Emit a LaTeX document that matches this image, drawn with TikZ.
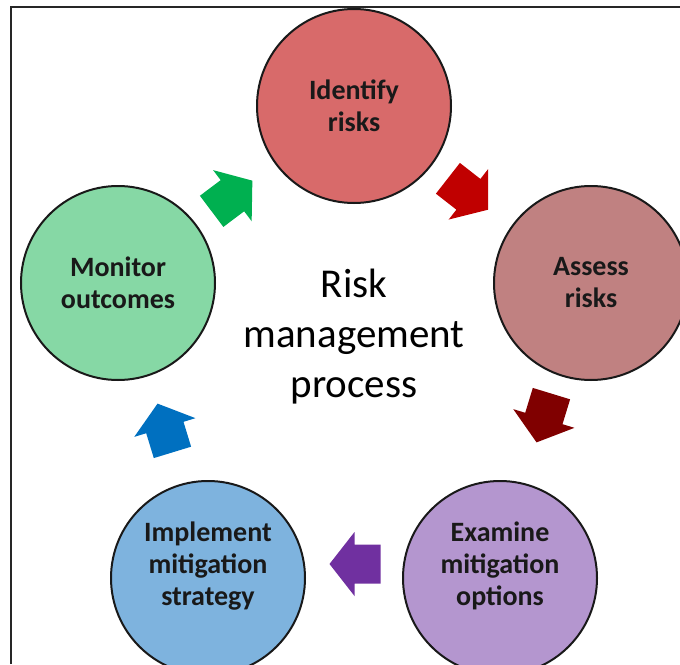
\documentclass[tikz,border=0pt]{standalone}
\usepackage{fontspec}
\setmainfont{Carlito}
\usetikzlibrary{positioning,calc}
\definecolor{identFill}{HTML}{D86A6A}
\definecolor{assessFill}{HTML}{C08181}
\definecolor{examineFill}{HTML}{B496CF}
\definecolor{implementFill}{HTML}{7EB3DE}
\definecolor{monitorFill}{HTML}{86D8A5}
\definecolor{arrowGreen}{HTML}{00B050}
\definecolor{arrowRed}{HTML}{C00000}
\definecolor{arrowMaroon}{HTML}{800000}
\definecolor{arrowPurple}{HTML}{7030A0}
\definecolor{arrowBlue}{HTML}{0070C0}

\begin{document}
\begin{tikzpicture}[
  x=0.5pt, y=-0.5pt,
  stage/.style={circle, draw=black!90, line width=1pt, minimum size=97pt, inner sep=0pt, align=center, font=\bfseries\fontsize{14}{16}\selectfont, text=black!90},
  stagetext/.style={align=center, font=\bfseries\fontsize{14}{16}\selectfont, text=black!90},
  blockarrow/.pic={\fill (-25.5,-19.5) -- (0.5,-19.5) -- (0.5,-32) -- (25.5,0) -- (0.5,32) -- (0.5,19.5) -- (-25.5,19.5) -- cycle;},
  frame/.style={line width=1.2pt, draw=black!85}
]
\useasboundingbox (0,0) rectangle (680,664);
\clip (0,0) rectangle (680,664);
\draw[frame] (11,664) |- (680,7);
% the five steps of the cycle
\node[stage, fill=identFill] (ident) at (354,106) {Identify\\risks};
\node[stage, fill=assessFill] (assess) at (591,283) {Assess\\risks};
\node[stage, fill=examineFill, label={[stagetext, yshift=6pt]center:Examine\\mitigation\\options}] (examine) at (500,578) {};
\node[stage, fill=implementFill, label={[stagetext, yshift=6pt]center:Implement\\mitigation\\strategy}] (implement) at (208,578) {};
\node[stage, fill=monitorFill] (monitor) at (118,283) {Monitor\\outcomes};
\node[align=center, font=\fontsize{20.5}{25}\selectfont] (title) at (354,337) {Risk\\management\\process};
% block arrows between the steps
\pic[fill=arrowGreen, rotate=37] at (232,196) {blockarrow};
\pic[fill=arrowRed, rotate=-38] at (468,194) {blockarrow};
\pic[fill=arrowMaroon, rotate=-107] at (544,418) {blockarrow};
\pic[fill=arrowPurple, rotate=180] at (355,564) {blockarrow};
\pic[fill=arrowBlue, rotate=107] at (165,428) {blockarrow};
\end{tikzpicture}
\end{document}
